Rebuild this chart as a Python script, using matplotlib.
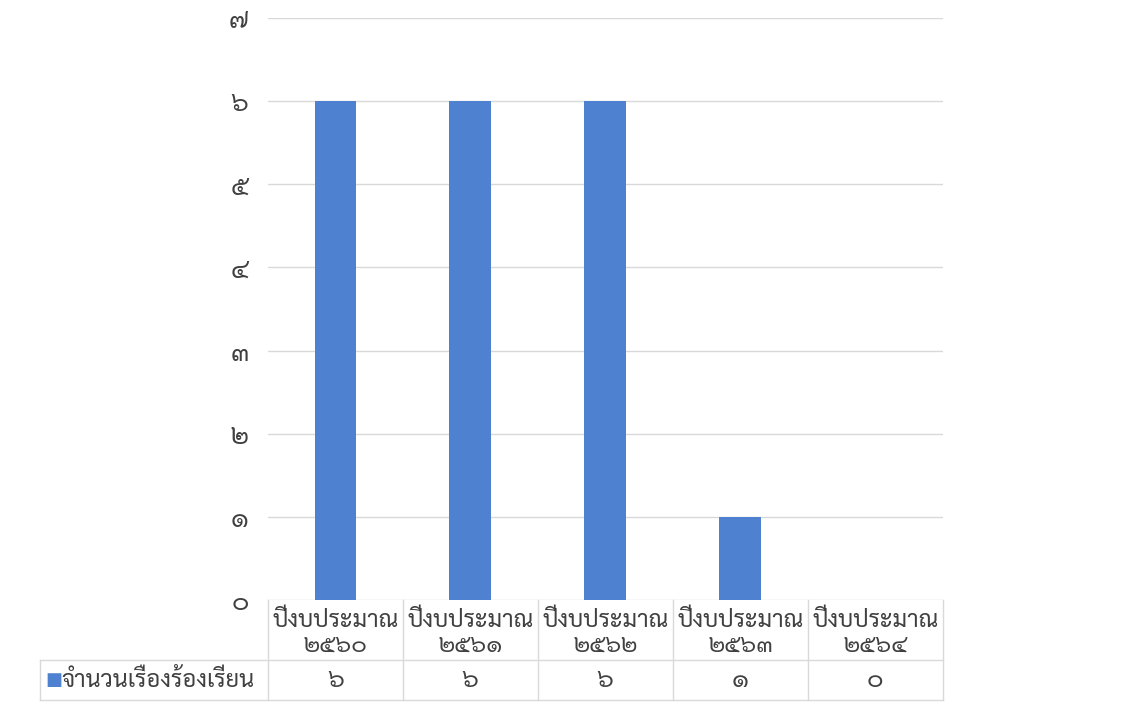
import matplotlib
matplotlib.use("Agg")
import matplotlib.pyplot as plt
import matplotlib.transforms as mtransforms

plt.rcParams["font.family"] = ["Sarabun", "DejaVu Sans"]

categories = ["ปีงบประมาณ\n๒๕๖๐", "ปีงบประมาณ\n๒๕๖๑", "ปีงบประมาณ\n๒๕๖๒",
              "ปีงบประมาณ\n๒๕๖๓", "ปีงบประมาณ\n๒๕๖๔"]
values = [6, 6, 6, 1, 0]
value_labels = ["๖", "๖", "๖", "๑", "๐"]
series_name = "จำนวนเรื่องร้องเรียน"
ytick_labels = ["๐", "๑", "๒", "๓", "๔", "๕", "๖", "๗"]

bar_color = "#4f81d1"
grid_color = "#d9d9d9"
text_color = "#404040"
fs = 17

fig = plt.figure(figsize=(11.36, 7.04), dpi=100)
ax = fig.add_axes([0.2359, 0.1477, 0.594, 0.8267])

x = list(range(len(values)))
ax.bar(x, values, width=0.31, color=bar_color, zorder=3)
ax.set_xlim(-0.5, len(values) - 0.5)
ax.set_ylim(0, 7)
ax.set_yticks(range(8))
ax.set_yticklabels(ytick_labels, fontsize=19, color=text_color)
ax.tick_params(axis="y", length=0, pad=14)
ax.set_xticks([])
ax.grid(axis="y", color=grid_color, linewidth=1, zorder=0)
for s in ax.spines.values():
    s.set_visible(False)

# data table under the chart
tr = mtransforms.blended_transform_factory(ax.transData, ax.transAxes)
h1 = -0.103
h2 = -0.172
left = -0.338
for i in range(len(values) + 1):
    ax.plot([i - 0.5, i - 0.5], [0, h2], transform=tr, color=grid_color,
            linewidth=1, clip_on=False)
ax.plot([left, 1], [h1, h1], transform=ax.transAxes, color=grid_color,
        linewidth=1, clip_on=False)
ax.plot([left, 1], [h2, h2], transform=ax.transAxes, color=grid_color,
        linewidth=1, clip_on=False)
ax.plot([left, left], [h1, h2], transform=ax.transAxes, color=grid_color,
        linewidth=1, clip_on=False)

for i, (cat, lab) in enumerate(zip(categories, value_labels)):
    ax.text(i, h1 / 2 - 0.005, cat, transform=tr, ha="center", va="center",
            fontsize=fs, color=text_color, linespacing=1.15)
    ax.text(i, (h1 + h2) / 2, lab, transform=tr, ha="center", va="center",
            fontsize=fs + 1, color=text_color)

ax.text(left + 0.008, (h1 + h2) / 2, "■", transform=ax.transAxes, ha="left",
        va="center", fontsize=13, color=bar_color, family="DejaVu Sans")
ax.text(left + 0.031, (h1 + h2) / 2, series_name, transform=ax.transAxes,
        ha="left", va="center", fontsize=fs, color=text_color)

fig.savefig("out.png", dpi=100)
